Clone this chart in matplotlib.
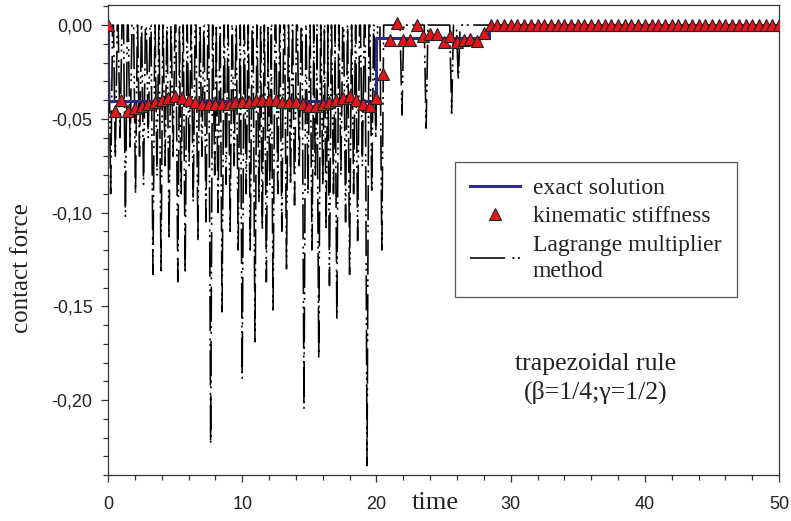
import numpy as np
import matplotlib
matplotlib.use('Agg')
import matplotlib.pyplot as plt
from matplotlib.ticker import MultipleLocator, FuncFormatter

# exact solution (step levels)
exact_t = [0.0, 0.0, 20.0, 20.0, 28.4, 28.4, 50.0]
exact_v = [0.0, -0.0405, -0.0405, -0.0070, -0.0070, 0.0, 0.0]

# kinematic stiffness (one marker every 0.5 time units)
kin_t = [i * 0.5 for i in range(101)]
kin_v = [0.000, -0.046, -0.040, -0.046, -0.044, -0.043, -0.042, -0.041, -0.040, -0.039,
         -0.038, -0.039, -0.040, -0.041, -0.042, -0.042, -0.042, -0.042, -0.042, -0.041,
         -0.041, -0.041, -0.040, -0.040, -0.040, -0.040, -0.041, -0.041, -0.041, -0.042,
         -0.043, -0.043, -0.042, -0.041, -0.040, -0.039, -0.038, -0.040, -0.042, -0.043,
         -0.039, -0.026, -0.008, 0.001, -0.008, -0.008, 0.000, -0.006, -0.005, -0.005,
         -0.009, -0.006, -0.009, -0.008, -0.0075, -0.0085, -0.004, 0.000, 0.000, 0.000,
         0.0, 0.0, 0.0, 0.0, 0.0, 0.0, 0.0, 0.0, 0.0, 0.0,
         0.0, 0.0, 0.0, 0.0, 0.0, 0.0, 0.0, 0.0, 0.0, 0.0,
         0.0, 0.0, 0.0, 0.0, 0.0, 0.0, 0.0, 0.0, 0.0, 0.0,
         0.0, 0.0, 0.0, 0.0, 0.0, 0.0, 0.0, 0.0, 0.0, 0.0, 0.0]

# Lagrange multiplier method: spike times and spike minima
spike_t = [0.20, 0.55, 0.90, 1.30, 1.65, 2.05, 2.35, 2.65, 3.00, 3.35,
           3.65, 3.95, 4.25, 4.55, 4.85, 5.20, 5.45, 5.75, 6.05, 6.35,
           6.70, 7.00, 7.30, 7.65, 7.95, 8.20, 8.50, 8.80, 9.10, 9.40,
           9.70, 10.00, 10.30, 10.60, 10.95, 11.25, 11.50, 11.80, 12.05, 12.30,
           12.65, 12.95, 13.30, 13.60, 13.90, 14.25, 14.60, 14.90, 15.20, 15.45,
           15.70, 16.00, 16.25, 16.50, 16.80, 17.05, 17.35, 17.70, 18.00, 18.30,
           18.60, 18.95, 19.30, 19.65, 19.95, 20.40, 21.90, 23.70, 25.60, 26.10]
spike_v = [-0.090, -0.071, -0.060, -0.102, -0.065, -0.090, -0.070, -0.085, -0.060, -0.133,
           -0.080, -0.131, -0.075, -0.115, -0.070, -0.137, -0.090, -0.133, -0.075, -0.095,
           -0.115, -0.070, -0.105, -0.224, -0.080, -0.100, -0.153, -0.085, -0.110, -0.075,
           -0.120, -0.189, -0.090, -0.120, -0.169, -0.095, -0.110, -0.137, -0.085, -0.152,
           -0.090, -0.110, -0.130, -0.085, -0.096, -0.075, -0.205, -0.090, -0.120, -0.080,
           -0.178, -0.085, -0.110, -0.139, -0.090, -0.158, -0.080, -0.105, -0.133, -0.090,
           -0.115, -0.075, -0.235, -0.090, -0.060, -0.120, -0.048, -0.055, -0.047, -0.030]

lag_t = [0.0]
lag_v = [0.0]
for t, v in zip(spike_t, spike_v):
    lag_t += [t - 0.14, t, t + 0.14]
    lag_v += [0.0, v, 0.0]
lag_t.append(50.0)
lag_v.append(0.0)

serif = ['Liberation Serif', 'DejaVu Serif']
sans = ['Liberation Sans', 'DejaVu Sans']

fig = plt.figure(figsize=(7.91, 5.21), dpi=100)
ax = fig.add_axes([0.1365, 0.0883, 0.8485, 0.9021])

ax.plot(lag_t, lag_v, color='black', lw=1.15, dashes=(22, 4.5, 1.3, 2.2, 1.3, 2.8),
        zorder=1, label='Lagrange multiplier\nmethod')
ax.plot(exact_t, exact_v, color='#2b2b8f', lw=2.2, zorder=2, label='exact solution')
ax.plot(kin_t, kin_v, ls='none', marker='^', ms=8, mfc='#e8141c', mec='#222222',
        mew=0.8, zorder=3, label='kinematic stiffness')

ax.set_xlim(0, 50)
ax.set_ylim(-0.24, 0.0107)
ax.xaxis.set_major_locator(MultipleLocator(10))
ax.xaxis.set_minor_locator(MultipleLocator(2))
ax.yaxis.set_major_locator(MultipleLocator(0.05))
ax.yaxis.set_minor_locator(MultipleLocator(0.01))
ax.yaxis.set_major_formatter(FuncFormatter(lambda v, p: ('%.2f' % v).replace('.', ',').replace('-0,00', '0,00')))

for s in ax.spines.values():
    s.set_color('#333333')
    s.set_linewidth(0.9)
ax.tick_params(which='both', direction='out', color='#333333', top=False, right=False)
ax.tick_params(which='major', length=5, width=0.9)
ax.tick_params(which='minor', length=3.5, width=0.9)
ax.tick_params(axis='x', pad=10)
ax.tick_params(axis='y', pad=6)
for lbl in ax.get_xticklabels() + ax.get_yticklabels():
    lbl.set_fontfamily(sans)
    lbl.set_fontsize(13)
    lbl.set_color('#222222')

ax.set_ylabel('contact force', fontfamily=serif, fontsize=18, color='#222222')
ax.yaxis.set_label_coords(-0.112, 0.44)
ax.set_xlabel('time', fontfamily=serif, fontsize=19, color='#222222')
ax.xaxis.set_label_coords(0.487, -0.036)

handles, labels = ax.get_legend_handles_labels()
order = [1, 2, 0]
leg = ax.legend([handles[i] for i in order], [labels[i] for i in order],
                loc='upper left', bbox_to_anchor=(0.517, 0.666), borderaxespad=0,
                frameon=True, fancybox=False, framealpha=1, edgecolor='#555555',
                prop={'family': serif, 'size': 17}, handlelength=2.1,
                labelspacing=0.3, borderpad=0.65, handletextpad=0.55,
                numpoints=1)
leg.get_frame().set_linewidth(0.9)
for txt in leg.get_texts():
    txt.set_color('#222222')
    txt.set_linespacing(1.35)

ax.text(0.726, 0.206, 'trapezoidal rule\n(β=1/4;γ=1/2)', transform=ax.transAxes,
        ha='center', va='center', fontfamily=serif, fontsize=18.5, color='#222222',
        linespacing=1.3)

fig.savefig('out.png', dpi=100)
